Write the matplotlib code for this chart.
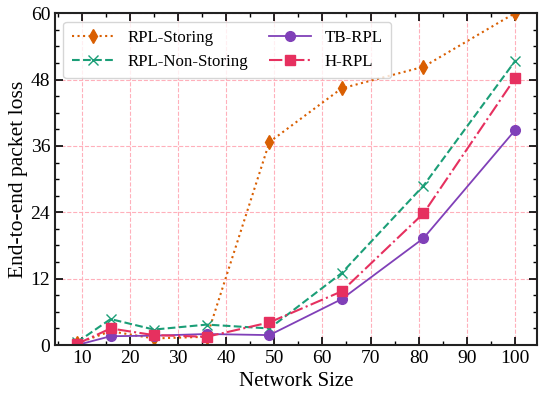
import matplotlib
matplotlib.use('Agg')
import matplotlib.pyplot as plt
from matplotlib.ticker import MultipleLocator

plt.rcParams['font.family'] = ['Liberation Serif', 'DejaVu Serif']
plt.rcParams['mathtext.fontset'] = 'stix'

# data
network_size = [9, 16, 25, 36, 49, 64, 81, 100]
rpl_storing = [0.3, 2.5, 1.2, 1.5, 36.7, 46.4, 50.3, 60.0]
rpl_non_storing = [0.5, 4.7, 2.8, 3.7, 3.0, 13.0, 28.8, 51.3]
tb_rpl = [0.0, 1.6, 1.7, 2.0, 1.8, 8.3, 19.3, 38.8]
h_rpl = [0.2, 3.0, 1.8, 1.5, 4.1, 9.7, 23.8, 48.2]

fig = plt.figure(figsize=(5.5, 3.98), dpi=100)
ax = fig.add_axes([0.1, 0.133, 0.876, 0.834])

ax.plot(network_size, rpl_storing, linestyle=':', color='#d95f02', marker='d',
        markersize=7, linewidth=1.5, label='RPL-Storing')
ax.plot(network_size, rpl_non_storing, linestyle='--', color='#1b9e77', marker='x',
        markersize=7, linewidth=1.5, label='RPL-Non-Storing')
ax.plot(network_size, tb_rpl, linestyle='-', color='#8040b8', marker='o',
        markersize=7, linewidth=1.3, label='TB-RPL')
ax.plot(network_size, h_rpl, linestyle='-.', color='#e6305f', marker='s',
        markersize=7, linewidth=1.5, label='H-RPL')

ax.set_xlim(4.45, 104.55)
ax.set_ylim(0, 60)
ax.set_xticks(range(10, 101, 10))
ax.xaxis.set_minor_locator(MultipleLocator(5))
ax.yaxis.set_major_locator(MultipleLocator(12))
ax.yaxis.set_minor_locator(MultipleLocator(3))

ax.tick_params(which='both', direction='in', top=True, right=True, labelsize=14)
ax.tick_params(which='major', length=6, width=1.2)
ax.tick_params(which='minor', length=3, width=1.0)
for s in ax.spines.values():
    s.set_linewidth(1.5)
    s.set_color('#222222')

ax.grid(True, which='major', linestyle='--', color='#ffb0bb', linewidth=0.8)
ax.set_axisbelow(True)

ax.set_xlabel('Network Size', fontsize=15)
ax.set_ylabel('End-to-end packet loss', fontsize=15.5, labelpad=2)

ax.legend(loc='upper left', ncol=2, fontsize=12.2, frameon=True, handlelength=2.5,
          columnspacing=1.2, borderpad=0.5, labelspacing=0.45)

fig.savefig('out.png', dpi=100)
